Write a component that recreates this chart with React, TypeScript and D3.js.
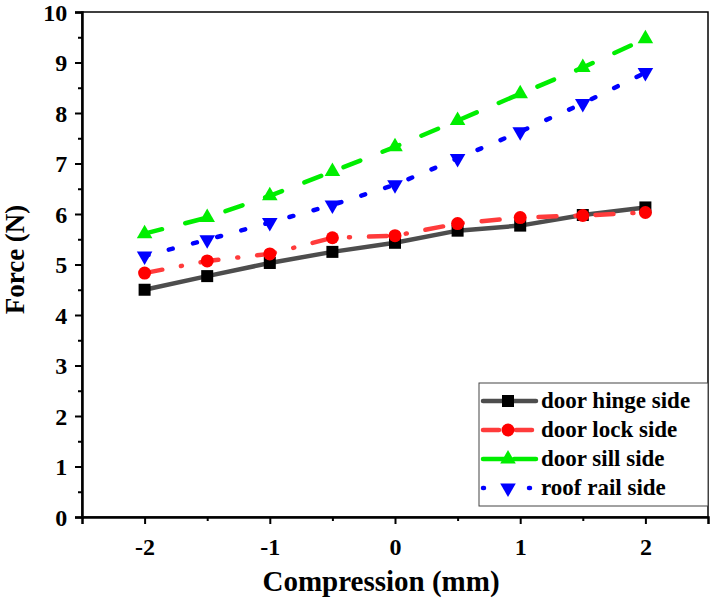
import React, { useRef, useEffect } from "react";
import * as d3 from "d3";

// chart data
const compression = [-2, -1.5, -1, -0.5, 0, 0.5, 1, 1.5, 2];
const hingeSide = [4.5, 4.77, 5.03, 5.25, 5.43, 5.67, 5.77, 5.98, 6.13];
const lockSide = [4.83, 5.07, 5.21, 5.53, 5.57, 5.81, 5.93, 5.97, 6.03];
const sillSide = [5.61, 5.93, 6.36, 6.84, 7.33, 7.85, 8.38, 8.9, 9.47];
const roofSide = [5.17, 5.49, 5.83, 6.18, 6.58, 7.1, 7.63, 8.19, 8.8];
const seriesNames = ["door hinge side", "door lock side", "door sill side", "roof rail side"];
const xTicks = [-2, -1, 0, 1, 2];
const yTicks = [0, 1, 2, 3, 4, 5, 6, 7, 8, 9, 10];

const W = 712, H = 601;
const margin = { top: 12, right: 4, bottom: 84, left: 82 };
const font = "'Liberation Serif', 'Times New Roman', serif";

const styles = [
  { color: "#4d4d4d", dash: null, marker: "square", markerColor: "#000" },
  { color: "#ff3b3b", dash: "18,19,1,19", marker: "circle", markerColor: "#ff0000" },
  { color: "#00ee00", dash: "18,24", marker: "up", markerColor: "#00ee00" },
  { color: "#0000ff", dash: "4,21", marker: "down", markerColor: "#0000ff" },
];

export default function App() {
  const ref = useRef<SVGSVGElement>(null);

  useEffect(() => {
    const svg = d3.select(ref.current);
    svg.selectAll("*").remove();
    const w = W - margin.left - margin.right;
    const h = H - margin.top - margin.bottom;

    const x = d3.scaleLinear().domain([-2.5, 2.5]).range([margin.left, margin.left + w]);
    const y = d3.scaleLinear().domain([0, 10]).range([margin.top + h, margin.top]);

    svg.append("rect").attr("width", W).attr("height", H).attr("fill", "#fff");

    // frame
    svg.append("rect")
      .attr("x", margin.left).attr("y", margin.top)
      .attr("width", w).attr("height", h)
      .attr("fill", "none").attr("stroke", "#000").attr("stroke-width", 1.5);

    // axes
    const fmt = (d: any) => String(d);
    const xAxis = svg.append("g").attr("transform", `translate(0,${margin.top + h})`)
      .call(d3.axisBottom(x).tickValues(xTicks).tickSize(7).tickFormat(fmt));
    svg.append("g").attr("transform", `translate(0,${margin.top + h})`)
      .call(d3.axisBottom(x).tickValues([-1.5, -0.5, 0.5, 1.5]).tickSize(4).tickFormat(() => ""))
      .call(g => g.select(".domain").remove());
    const yAxis = svg.append("g").attr("transform", `translate(${margin.left},0)`)
      .call(d3.axisLeft(y).tickValues(yTicks).tickSize(7).tickFormat(fmt));
    svg.append("g").attr("transform", `translate(${margin.left},0)`)
      .call(d3.axisLeft(y).tickValues(d3.range(0.5, 10, 1)).tickSize(4).tickFormat(() => ""))
      .call(g => g.select(".domain").remove());

    svg.selectAll(".tick line").attr("stroke-width", 2);
    svg.selectAll(".domain").attr("stroke-width", 2.5);
    xAxis.selectAll("text").attr("font-family", font).attr("font-weight", "bold")
      .attr("font-size", 24).attr("dy", "1.15em").attr("fill", "#000");
    yAxis.selectAll("text").attr("font-family", font).attr("font-weight", "bold")
      .attr("font-size", 24).attr("dx", "-0.2em").attr("dy", "0.35em").attr("fill", "#000");

    // axis titles
    svg.append("text")
      .attr("x", margin.left + w / 2 - 14).attr("y", 591)
      .attr("text-anchor", "middle").attr("font-family", font)
      .attr("font-weight", "bold").attr("font-size", 29)
      .text("Compression (mm)");
    svg.append("text")
      .attr("transform", `translate(24,${margin.top + h / 2 - 5}) rotate(-90)`)
      .attr("text-anchor", "middle").attr("font-family", font)
      .attr("font-weight", "bold").attr("font-size", 27)
      .text("Force (N)");

    const all = [hingeSide, lockSide, sillSide, roofSide];
    const line = d3.line<number>().x((_, i) => x(compression[i])).y(d => y(d));

    const drawMarker = (g: any, kind: string, cx: number, cy: number, color: string) => {
      if (kind === "square") {
        g.append("rect").attr("x", cx - 6).attr("y", cy - 6).attr("width", 12).attr("height", 12).attr("fill", color);
      } else if (kind === "circle") {
        g.append("circle").attr("cx", cx).attr("cy", cy).attr("r", 6.5).attr("fill", color);
      } else {
        const sym = d3.symbol().type(d3.symbolTriangle).size(105);
        g.append("path").attr("d", sym())
          .attr("transform", `translate(${cx},${cy}) rotate(${kind === "down" ? 180 : 0})`)
          .attr("fill", color);
      }
    };

    all.forEach((vals, si) => {
      const st = styles[si];
      svg.append("path").datum(vals).attr("d", line)
        .attr("fill", "none").attr("stroke", st.color).attr("stroke-width", 4.5)
        .attr("stroke-linecap", "round")
        .attr("stroke-dasharray", st.dash);
    });
    all.forEach((vals, si) => {
      const st = styles[si];
      const g = svg.append("g");
      vals.forEach((v, i) => drawMarker(g, st.marker, x(compression[i]), y(v), st.markerColor));
    });

    // legend
    const lg = svg.append("g");
    lg.append("rect").attr("x", 479).attr("y", 383).attr("width", 229).attr("height", 123)
      .attr("fill", "#fff").attr("stroke", "#444").attr("stroke-width", 1);
    seriesNames.forEach((name, i) => {
      const st = styles[i];
      const cy = 401 + i * 29;
      lg.append("line").attr("x1", 483).attr("x2", 536).attr("y1", cy).attr("y2", cy)
        .attr("stroke", st.color).attr("stroke-width", 4.5).attr("stroke-linecap", "round")
        .attr("stroke-dasharray", i === 1 ? "16,8,1,8" : i === 2 ? "22,9" : i === 3 ? "1,22" : null);
      drawMarker(lg, st.marker, 508, cy, st.markerColor);
      lg.append("text").attr("x", 541).attr("y", cy + 7)
        .attr("font-family", font).attr("font-weight", "bold").attr("font-size", 23)
        .text(name);
    });
  }, []);

  return <svg ref={ref} width={W} height={H} style={{ display: "block", position: "absolute", left: 0, top: 0 }} />;
}
